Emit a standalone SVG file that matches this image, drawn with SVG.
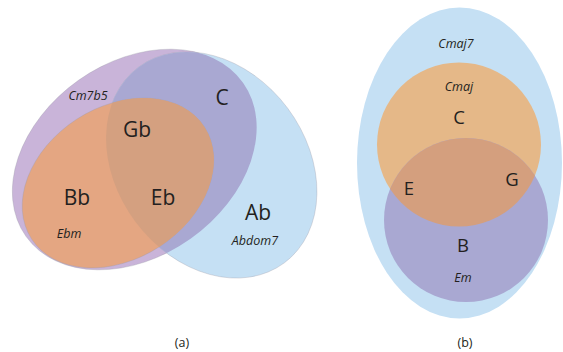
<svg xmlns="http://www.w3.org/2000/svg" width="563" height="352" viewBox="0 0 563 352">
<style>
.lbl{font-family:"Open Sans","Noto Sans","Liberation Sans",sans-serif;font-size:21px;fill:#231f20;text-anchor:middle}
.lblb{font-family:"Open Sans","Noto Sans","Liberation Sans",sans-serif;font-size:18.5px;fill:#231f20;text-anchor:middle}
.sub{font-family:"Open Sans","Noto Sans","Liberation Sans",sans-serif;font-size:12.5px;font-style:italic;fill:#231f20;text-anchor:middle}
.cap{font-family:"Open Sans","Noto Sans","Liberation Sans",sans-serif;font-size:12.5px;fill:#231f20;text-anchor:middle}
.edge{stroke:#9c9aa6;stroke-width:0.5;stroke-opacity:0.6}
</style>
<defs>
<clipPath id="clipBlueA"><ellipse cx="211.5" cy="165" rx="122" ry="95" transform="rotate(53.3 211.5 165)"/></clipPath>
<clipPath id="clipEmB"><circle cx="466" cy="220" r="82"/></clipPath>
</defs>

<g id="diagram-a">
  <g id="Cm7b5">
    <ellipse class="edge" cx="134.5" cy="159.5" rx="133" ry="97" transform="rotate(-35.3 134.5 159.5)" fill="#c9b4d9"/>
  </g>
  <g id="Abdom7">
    <ellipse class="edge" cx="211.5" cy="165" rx="122" ry="95" transform="rotate(53.3 211.5 165)" fill="#c5e0f4"/>
    <g clip-path="url(#clipBlueA)">
      <ellipse cx="134.5" cy="159.5" rx="133" ry="97" transform="rotate(-35.3 134.5 159.5)" fill="#a9a8d2"/>
    </g>
  </g>
  <g id="Ebm">
    <ellipse class="edge" cx="118" cy="183" rx="103" ry="76" transform="rotate(-33 118 183)" fill="#e4a682"/>
    <g clip-path="url(#clipBlueA)">
      <ellipse cx="118" cy="183" rx="103" ry="76" transform="rotate(-33 118 183)" fill="#d4a080"/>
    </g>
  </g>
  <g id="labels-a">
    <text class="sub" x="88" y="99.5">Cm7b5</text>
    <text class="lbl" x="222" y="104.5">C</text>
    <text class="lbl" x="137" y="136.5">Gb</text>
    <text class="lbl" x="77" y="204.5">Bb</text>
    <text class="lbl" x="163" y="204.5">Eb</text>
    <text class="sub" x="69" y="237.5">Ebm</text>
    <text class="lbl" x="258" y="219.5">Ab</text>
    <text class="sub" x="255" y="244.5">Abdom7</text>
  </g>
  <text class="cap" x="182" y="347">(a)</text>
</g>

<g id="diagram-b">
  <g id="Cmaj7">
    <ellipse cx="459.5" cy="163" rx="102.5" ry="155.5" fill="#c5e0f4"/>
    <text class="sub" x="456" y="47.5">Cmaj7</text>
  </g>
  <g id="Cmaj">
    <circle cx="459" cy="144.5" r="82" fill="#e5b888"/>
    <text class="sub" x="459" y="90.5">Cmaj</text>
    <text class="lblb" x="459" y="123.5">C</text>
  </g>
  <g id="Em">
    <circle cx="466" cy="220" r="82" fill="#a9a8d2"/>
    <circle cx="459" cy="144.5" r="82" fill="#d49f7e" clip-path="url(#clipEmB)"/>
    <text class="lblb" x="409" y="194.5">E</text>
    <text class="lblb" x="512" y="185.5">G</text>
    <text class="lblb" x="463" y="251.5">B</text>
    <text class="sub" x="463" y="281.5">Em</text>
  </g>
  <text class="cap" x="465" y="347">(b)</text>
</g>
</svg>
